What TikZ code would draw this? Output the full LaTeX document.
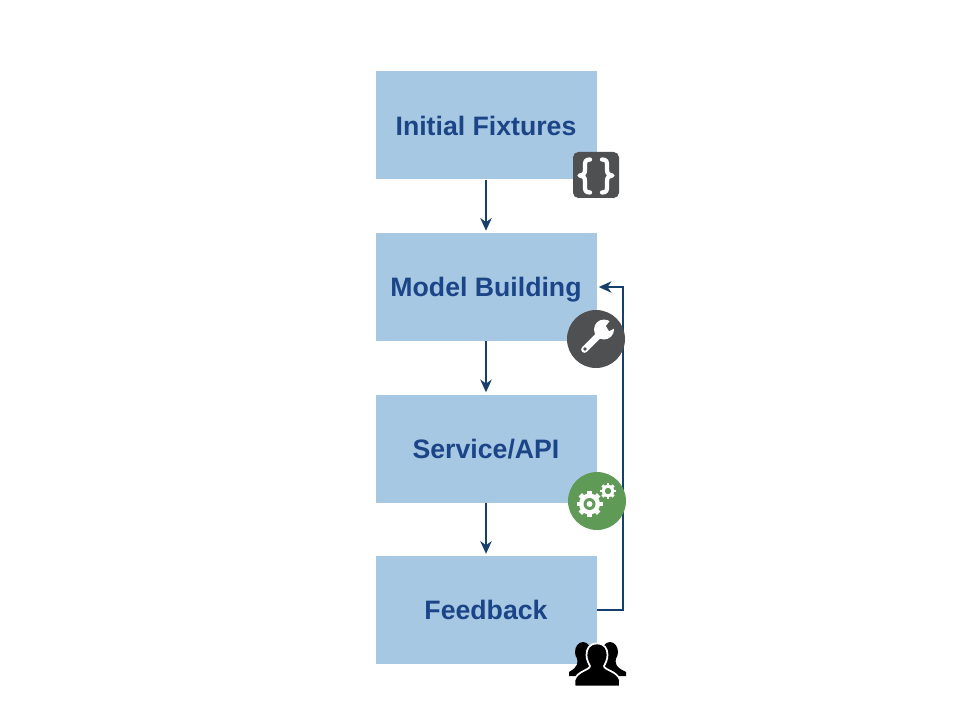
\documentclass[tikz,border=0pt]{standalone}
\usepackage{fontspec}
\setmainfont{Liberation Sans}
\usepackage{tikz}
\usetikzlibrary{positioning,arrows.meta}
\definecolor{boxblue}{HTML}{A6C8E3}
\definecolor{labelblue}{HTML}{1C4587}
\definecolor{flowblue}{HTML}{16406B}
\definecolor{iconGrey}{HTML}{4F5052}
\definecolor{iconGreen}{HTML}{5F9B57}
\tikzset{
  stagebox/.style={fill=boxblue,minimum width=165.75pt,minimum height=81pt,inner sep=0pt,
    text height=14.4pt,text depth=0pt,text=labelblue,font=\fontsize{20}{24}\selectfont\bfseries},
  flow/.style={draw=flowblue,line width=1.6pt,-{Stealth[length=9.5pt,width=8.5pt,inset=3pt]},shorten >=1.5pt},
  roundicon/.style={circle,minimum size=43.5pt,inner sep=0pt},
  glyph/.style={draw=white,line width=3.2pt,line cap=round,line join=round}
}
\begin{document}
\begin{tikzpicture}[x=0.75pt,y=-0.75pt]
  \useasboundingbox (0,0) rectangle (960,720);
  % stages
  \node[stagebox] (fixtures) at (486,125.5) {Initial Fixtures};
  \node[stagebox,below=39.75pt of fixtures] (model) {Model Building};
  \node[stagebox,below=39.75pt of model] (service) {Service/API};
  \node[stagebox,below=39.75pt of service] (feedback) {Feedback};
  \draw[flow] (fixtures) -- (model);
  \draw[flow] (model) -- (service);
  \draw[flow] (service) -- (feedback);
  \draw[flow] (feedback.east) -- ++(26.5,0) |- (model.east);
  % braces icon
  \node[fill=iconGrey,rounded corners=4pt,minimum size=34.5pt,inner sep=0pt] (bracesicon) at (596,175) {};
  \draw[glyph] (590,159.5) .. controls (585,159.5) and (585,162) .. (585,166) -- (585,170) .. controls (585,174) and (583,175) .. (579.5,175.5) .. controls (583,176) and (585,177) .. (585,181) -- (585,186) .. controls (585,190) and (585,192.5) .. (590,192.5);
  \draw[glyph] (602,159.5) .. controls (607,159.5) and (607,162) .. (607,166) -- (607,170) .. controls (607,174) and (609,175) .. (612.5,175.5) .. controls (609,176) and (607,177) .. (607,181) -- (607,186) .. controls (607,190) and (607,192.5) .. (602,192.5);
  % wrench icon
  \node[roundicon,fill=iconGrey] (wrenchicon) at (596,339) {};
  \draw[white,line width=5pt,line cap=round] (584.5,349.5) -- (601,333);
  \fill[white] (604,329.5) circle (10);
  \fill[iconGrey] (606,326) -- (613,317) -- (621,325) -- (609,331) -- cycle;
  \fill[iconGrey] (585,349) circle (1.8);
  % gears icon
  \node[roundicon,fill=iconGreen] (gearsicon) at (597,501) {};
  \foreach \a in {0,45,...,315}
    \draw[white,line width=3.6pt] (589.5,504) ++(\a:8) -- ++(\a:5);
  \fill[white] (589.5,504) circle (10.5);
  \fill[iconGreen] (589.5,504) circle (6);
  \fill[white] (589.5,504) circle (3);
  \foreach \a in {0,45,...,315}
    \draw[white,line width=2.2pt] (608,491) ++(\a:5) -- ++(\a:2.8);
  \fill[white] (608,491) circle (6.2);
  \fill[iconGreen] (608,491) circle (3.2);
  % people icon
  \fill[black] (583,652) ellipse (8 and 10);
  \fill[black] (610,652) ellipse (8 and 10);
  \fill[black] (577,658) .. controls (578,663) and (578,667) .. (569,672) -- (569,676) -- (592,676) -- (592,658) -- cycle;
  \fill[black] (616,658) .. controls (615,663) and (615,667) .. (626,672) -- (626,676) -- (601,676) -- (601,658) -- cycle;
  \filldraw[black,draw=white,line width=1.3pt] (597,643.5) .. controls (589,643.5) and (586.5,649) .. (586.5,655) .. controls (586.5,660) and (589,664) .. (590,666) .. controls (590,670) and (577,671) .. (574.5,680) -- (574.5,686.5) -- (620,686.5) -- (620,680) .. controls (617,671) and (604,670) .. (604,666) .. controls (605,664) and (607.5,660) .. (607.5,655) .. controls (607.5,649) and (605,643.5) .. (597,643.5) -- cycle;
\end{tikzpicture}
\end{document}
